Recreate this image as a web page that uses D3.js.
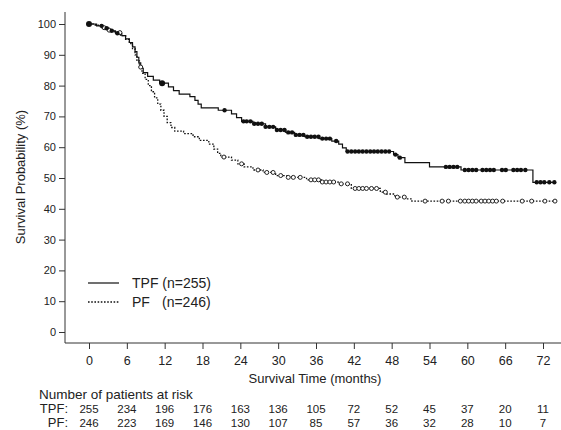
<!DOCTYPE html>
<html><head><meta charset="utf-8">
<script src="https://cdn.jsdelivr.net/npm/d3@7"></script>
<style>body{margin:0;background:#fff}svg{display:block;font-family:"Liberation Sans",Arial,sans-serif}</style>
</head><body><svg id="c" width="561" height="430"></svg>
<script>
// ---- data ----
const xTicks = [0,6,12,18,24,30,36,42,48,54,60,66,72];
const yTicks = [0,10,20,30,40,50,60,70,80,90,100];
const riskTPF = [255,234,196,176,163,136,105,72,52,45,37,20,11];
const riskPF  = [246,223,169,146,130,107,85,57,36,32,28,10,7];
const endTime = 74;
const tpfSteps = [[0,100],[1.2,99.4],[2.2,98.6],[3.2,97.8],[4.2,97],[5.2,96.2],[5.8,95.2],[6.4,94],[6.9,92.6],[7.3,91],[7.6,89.2],[7.9,87.4],[8.2,85.6],[8.6,84.2],[9.3,83],[10.2,81.8],[11.2,80.8],[12.6,79.6],[13.4,78.4],[14.3,77.2],[16.0,76.4],[16.8,75.2],[17.3,74],[17.8,72.8],[20.5,72],[22.6,70.8],[23.4,69.6],[24.2,68.4],[26,67.6],[28,66.6],[29.6,65.6],[31.2,64.8],[32.6,64],[34.2,63.4],[36.5,62.8],[38.5,62],[39.6,61],[40.2,59.8],[40.8,58.6],[48.3,57.6],[49.0,56.6],[50.1,55.0],[54.0,53.6],[59.0,52.6],[70.4,48.6]];
const pfSteps = [[0,100],[1,99.6],[2,98.8],[3,98],[4,97.2],[5,96.2],[5.8,95],[6.4,93.6],[6.9,92],[7.3,90],[7.6,88],[8.0,86],[8.4,84],[8.9,82],[9.4,80],[9.9,78],[10.4,76],[10.9,74],[11.4,72],[11.9,70],[12.4,68],[13,66.4],[13.6,65.2],[15,64.4],[16.5,63.4],[17.5,62.2],[19,61],[19.8,59.4],[20.4,58],[20.9,56.8],[22.6,55.8],[23.6,54.6],[24.6,53.6],[26,52.6],[27.6,51.8],[29.6,50.8],[31.5,50.2],[34.5,49.4],[37,48.7],[39.5,48.1],[41.6,46.6],[46.2,45.4],[47.2,44.8],[48.5,43.8],[50.2,43.2],[51.2,42.5]];
const tpfCensor = [0,2.0,2.8,3.6,4.5,11.6,21.5,24.5,25,25.6,26.2,26.8,27.4,28,28.6,29.2,29.8,30.4,31,31.6,32.2,32.8,33.4,34,34.6,35.2,35.8,36.4,37,37.6,38.2,39.2,41,41.6,42.2,42.8,43.4,44,44.6,45.2,45.8,46.4,47,47.6,48.6,49.3,56.6,57.2,57.8,58.4,59.6,60.2,60.8,61.4,62.4,63,63.6,64.2,65.5,66.1,67.3,67.9,68.5,69.2,71,71.6,72.2,73,73.8];
const pfCensor = [2.4,3.2,4.9,8.2,21.4,24.2,26.8,28.2,29.2,30.4,31.6,32.4,33.5,35.2,35.8,36.4,37,37.6,38.2,38.8,40,41,42.2,42.8,43.4,44,44.8,45.6,47,48.9,50,53.3,56,57,58.9,59.6,60.2,60.8,61.4,62.2,62.8,63.4,64,64.6,65.6,68.7,70.2,72.3,73.9];

// ---- drawing ----
const svg = d3.select("#c");
const x = d3.scaleLinear().domain([0,72]).range([89,543]);
const y = d3.scaleLinear().domain([0,100]).range([332,24]);
const axisCol = "#333";

// y axis
const yAx = svg.append("g").attr("transform","translate(65,0)")
  .call(d3.axisLeft(y).tickValues(yTicks).tickSize(6).tickPadding(3));
yAx.select(".domain").remove();
svg.append("line").attr("x1",65).attr("x2",65).attr("y1",12).attr("y2",343).attr("stroke",axisCol);
yAx.selectAll("line").attr("stroke",axisCol);
yAx.selectAll("text").attr("font-size",11).attr("fill","#222").attr("font-family","Liberation Sans, Arial, sans-serif");

// x axis
const xAx = svg.append("g").attr("transform","translate(0,343)")
  .call(d3.axisBottom(x).tickValues(xTicks).tickSize(6).tickPadding(7));
xAx.select(".domain").remove();
svg.append("line").attr("x1",65).attr("x2",561).attr("y1",343).attr("y2",343).attr("stroke",axisCol);
xAx.selectAll("line").attr("stroke",axisCol);
xAx.selectAll("text").attr("font-size",12.5).attr("fill","#222").attr("font-family","Liberation Sans, Arial, sans-serif");

svg.append("text").attr("x",315).attr("y",383).attr("text-anchor","middle")
  .attr("font-size",13).attr("fill","#222").text("Survival Time (months)");
svg.append("text").attr("transform","translate(25,177) rotate(-90)").attr("text-anchor","middle")
  .attr("font-size",13).attr("fill","#222").text("Survival Probability (%)");

// curves
const line = d3.line().x(d=>x(d[0])).y(d=>y(d[1])).curve(d3.curveStepAfter);
function withEnd(steps){ return steps.concat([[endTime, steps[steps.length-1][1]]]); }
function survAt(steps,t){ let v=steps[0][1]; for(const s of steps){ if(s[0]<=t) v=s[1]; } return v; }

svg.append("path").datum(withEnd(pfSteps)).attr("d",line).attr("fill","none")
  .attr("stroke","#111").attr("stroke-width",1.3).attr("stroke-dasharray","1.6,1.6");
svg.append("path").datum(withEnd(tpfSteps)).attr("d",line).attr("fill","none")
  .attr("stroke","#111").attr("stroke-width",1.2);

svg.append("g").selectAll("circle").data(pfCensor).join("circle")
  .attr("cx",d=>x(d)).attr("cy",d=>y(survAt(pfSteps,d))).attr("r",2)
  .attr("fill","#fff").attr("stroke","#222").attr("stroke-width",1);
svg.append("g").selectAll("circle").data(tpfCensor).join("circle")
  .attr("cx",d=>x(d)).attr("cy",d=>y(survAt(tpfSteps,d))).attr("r",d=>d===0||d===11.6?3:2.2)
  .attr("fill","#111");

// legend
svg.append("line").attr("x1",88).attr("x2",119).attr("y1",283).attr("y2",283).attr("stroke","#111").attr("stroke-width",1.2);
svg.append("line").attr("x1",88).attr("x2",119).attr("y1",302).attr("y2",302).attr("stroke","#111").attr("stroke-width",1.3).attr("stroke-dasharray","1.6,1.6");
svg.append("text").attr("x",132).attr("y",288).attr("font-size",14).attr("fill","#222").text("TPF (n=255)");
svg.append("text").attr("x",132).attr("y",307).attr("font-size",14).attr("fill","#222").text("PF");
svg.append("text").attr("x",162).attr("y",307).attr("font-size",14).attr("fill","#222").text("(n=246)");

// risk table
svg.append("text").attr("x",39).attr("y",399).attr("font-size",13.5).attr("fill","#222").text("Number of patients at risk");
svg.append("text").attr("x",68).attr("y",413).attr("text-anchor","end").attr("font-size",13).attr("fill","#222").text("TPF:");
svg.append("text").attr("x",68).attr("y",427).attr("text-anchor","end").attr("font-size",13).attr("fill","#222").text("PF:");
svg.append("g").selectAll("text").data(riskTPF).join("text")
  .attr("x",(d,i)=>x(xTicks[i])).attr("y",413).attr("text-anchor","middle").attr("font-size",11.5).attr("fill","#222").text(d=>d);
svg.append("g").selectAll("text").data(riskPF).join("text")
  .attr("x",(d,i)=>x(xTicks[i])).attr("y",427).attr("text-anchor","middle").attr("font-size",11.5).attr("fill","#222").text(d=>d);
</script></body></html>
